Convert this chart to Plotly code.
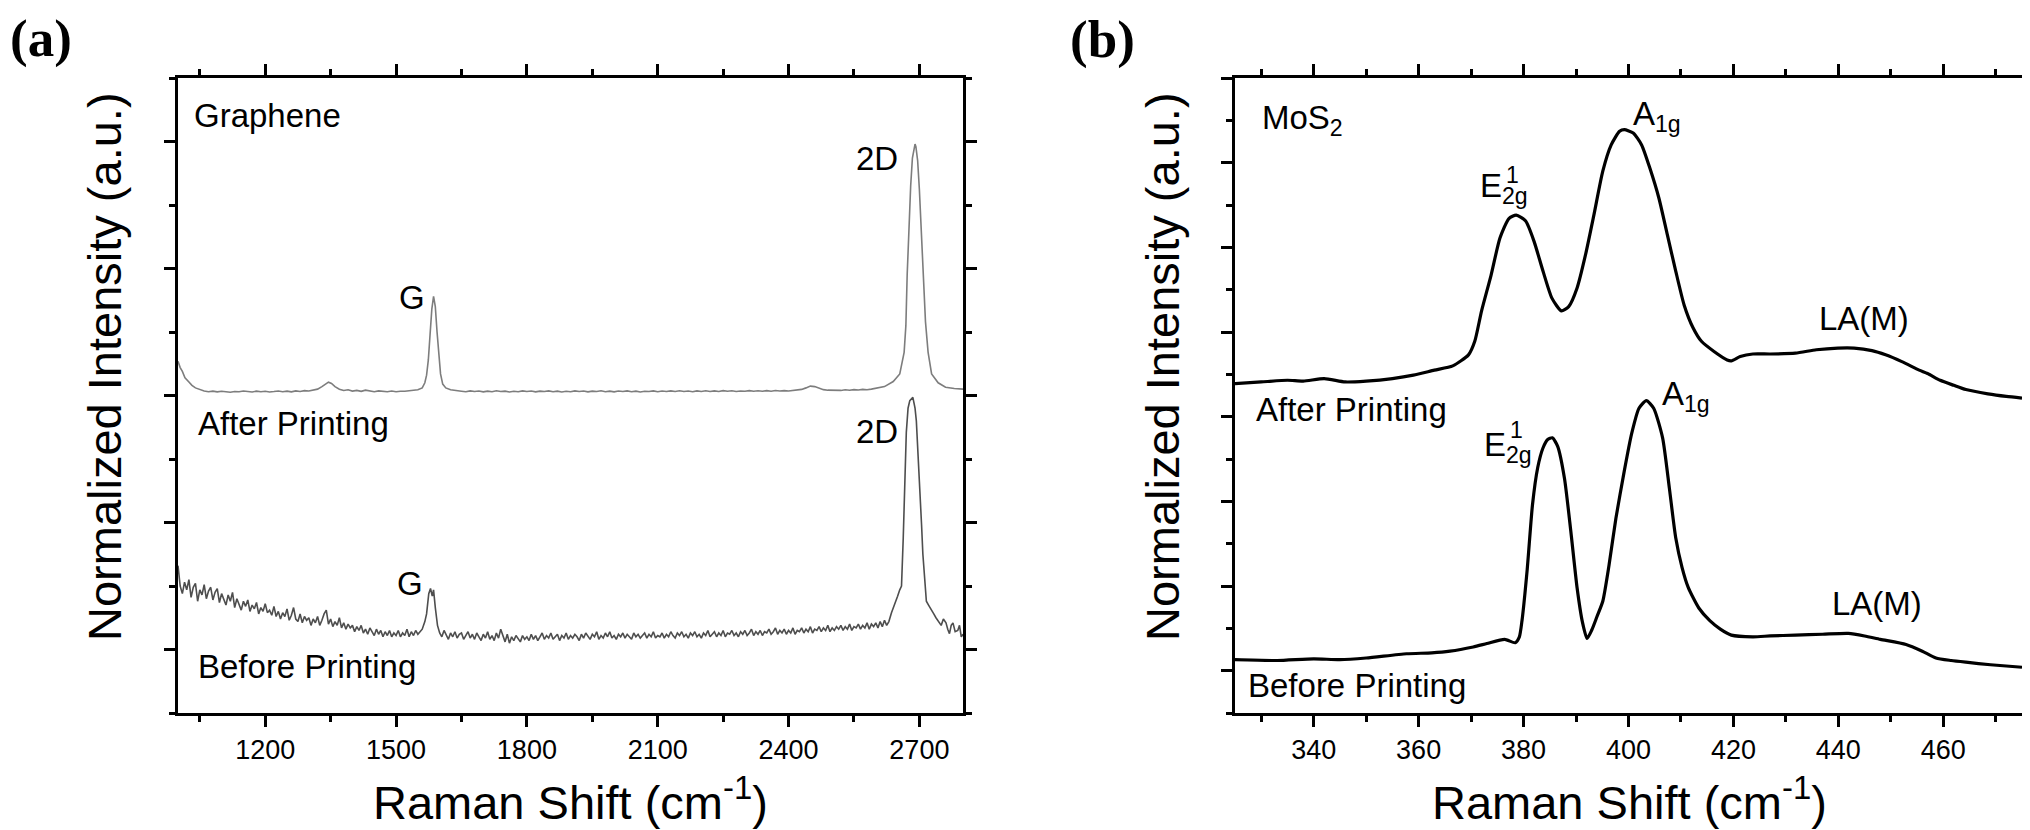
import plotly.graph_objects as go

SANS = "Liberation Sans, Arial, sans-serif"
SERIF = "Liberation Serif, Times New Roman, serif"

# ---------------- (a) graphene, Raman shift (cm-1) vs stacked intensity ----------------
gr_after_x = [1000, 1005, 1010, 1016, 1024, 1032, 1040, 1048, 1060, 1070, 1080, 1090, 1100, 1110,
              1120, 1130, 1140, 1150, 1160, 1170, 1180, 1190, 1200, 1210, 1220, 1230, 1240, 1250,
              1260, 1270, 1280, 1290, 1300, 1310, 1320, 1330, 1338, 1345, 1352, 1360, 1370, 1380,
              1390, 1400, 1410, 1420, 1430, 1440, 1450, 1460, 1470, 1480, 1490, 1500, 1510, 1520,
              1530, 1540, 1550, 1560, 1566, 1570, 1574, 1578, 1582, 1586, 1590, 1594, 1598, 1602,
              1607, 1614, 1625, 1640,
              1650, 1660, 1670, 1680, 1690, 1700, 1710, 1720, 1730, 1740, 1750, 1760, 1770, 1780,
              1790, 1800, 1810, 1820, 1830, 1840, 1850, 1860, 1870, 1880, 1890, 1900, 1910, 1920,
              1930, 1940, 1950, 1960, 1970, 1980, 1990, 2000, 2010, 2020, 2030, 2040, 2050, 2060,
              2070, 2080, 2090, 2100, 2110, 2120, 2130, 2140, 2150, 2160, 2170, 2180, 2190, 2200,
              2210, 2220, 2230, 2240, 2250, 2260, 2270, 2280, 2290, 2300, 2310, 2320, 2330, 2340,
              2350, 2360, 2370, 2380, 2390, 2400, 2410, 2420, 2430, 2440, 2450, 2460, 2470, 2480,
              2490, 2500, 2510, 2520, 2530, 2540, 2550, 2560, 2570, 2580, 2590,
              2600, 2620, 2640, 2655, 2665, 2669, 2672, 2676, 2680, 2684, 2688, 2690, 2692, 2696,
              2700, 2704, 2709, 2714, 2720, 2728, 2743, 2760, 2780, 2800]
gr_after_y = [2.27, 2.22, 2.19, 2.14, 2.11, 2.08, 2.06, 2.05, 2.035, 2.03, 2.034, 2.029, 2.033, 2.03,
              2.026, 2.032, 2.03, 2.035, 2.03, 2.028, 2.034, 2.03, 2.033, 2.028, 2.031, 2.035, 2.03, 2.034,
              2.029, 2.036, 2.032, 2.038, 2.035, 2.04, 2.05, 2.07, 2.09, 2.105, 2.095, 2.07, 2.05, 2.04,
              2.045, 2.035, 2.04, 2.033, 2.042, 2.035, 2.03, 2.036, 2.032, 2.03, 2.035, 2.03, 2.034, 2.033,
              2.038, 2.04, 2.045, 2.06, 2.10, 2.16, 2.28, 2.48, 2.68, 2.78, 2.70, 2.50, 2.30, 2.17,
              2.09, 2.06, 2.045, 2.035,
              2.034, 2.030, 2.036, 2.031, 2.035, 2.029, 2.034, 2.030, 2.037, 2.031, 2.034, 2.028, 2.033, 2.030,
              2.036, 2.031, 2.035, 2.029, 2.034, 2.031, 2.036, 2.030, 2.034, 2.028, 2.033, 2.030, 2.036, 2.031,
              2.035, 2.029, 2.034, 2.031, 2.037, 2.030, 2.034, 2.029, 2.035, 2.031, 2.036, 2.030, 2.034, 2.028,
              2.033, 2.031, 2.036, 2.030, 2.035, 2.031, 2.036, 2.032, 2.037, 2.031, 2.035, 2.030, 2.036, 2.032,
              2.037, 2.031, 2.036, 2.032, 2.038, 2.033, 2.037, 2.032, 2.036, 2.033, 2.038, 2.034, 2.037, 2.033,
              2.038, 2.034, 2.039, 2.035, 2.038, 2.035, 2.040, 2.040, 2.048, 2.060, 2.074, 2.070, 2.056, 2.046,
              2.042, 2.040, 2.043, 2.040, 2.045, 2.041, 2.046, 2.043, 2.048, 2.045, 2.050,
              2.055, 2.07, 2.11, 2.17, 2.34, 2.55, 2.95, 3.35, 3.65, 3.87, 3.97, 3.98, 3.96, 3.85,
              3.62, 3.30, 2.98, 2.58, 2.34, 2.17, 2.10, 2.065, 2.055, 2.05]

# before printing: noisy spectrum sampled every 5 cm-1, with the G and 2D peaks read more finely
gr_before_x = (list(range(1000, 1561, 5))
               + [1566, 1570, 1575, 1579, 1583, 1586, 1590, 1595]
               + list(range(1600, 2631, 5))
               + [2636, 2643, 2650, 2655, 2659, 2663, 2667, 2670, 2674, 2678, 2685, 2690, 2693, 2697,
                  2701, 2705, 2708, 2711, 2716, 2721, 2727, 2733, 2738, 2744, 2750, 2755, 2761, 2765,
                  2769, 2773, 2777, 2782, 2788, 2792, 2796, 2800])
gr_before_y = [
    # 1000 - 1560
    0.66, 0.50, 0.44, 0.53, 0.47, 0.55, 0.41, 0.49, 0.52, 0.38, 0.47, 0.43, 0.51, 0.40, 0.46, 0.49,
    0.39, 0.45, 0.48, 0.37, 0.44, 0.40, 0.35, 0.43, 0.38, 0.45, 0.33, 0.40, 0.36, 0.31, 0.38, 0.34,
    0.39, 0.30, 0.35, 0.32, 0.37, 0.28, 0.33, 0.30, 0.36, 0.29, 0.31, 0.27, 0.34, 0.26, 0.30, 0.24,
    0.29, 0.26, 0.32, 0.23, 0.27, 0.33, 0.24, 0.22, 0.28, 0.21, 0.26, 0.23, 0.25, 0.19, 0.24, 0.21,
    0.26, 0.19, 0.23, 0.28, 0.31, 0.20, 0.24, 0.18, 0.22, 0.19, 0.25, 0.17, 0.21, 0.16, 0.20, 0.17,
    0.19, 0.14, 0.18, 0.15, 0.19, 0.13, 0.16, 0.12, 0.17, 0.14, 0.11, 0.16, 0.12, 0.15, 0.10, 0.14,
    0.11, 0.15, 0.10, 0.13, 0.11, 0.15, 0.10, 0.13, 0.11, 0.16, 0.10, 0.14, 0.11, 0.15, 0.12, 0.14,
    0.16,
    # G band
    0.22, 0.28, 0.44, 0.48, 0.42, 0.47, 0.33, 0.19,
    # 1600 - 2630
    0.13, 0.10, 0.15, 0.11, 0.08, 0.13, 0.10, 0.14, 0.09, 0.12, 0.13, 0.08, 0.11, 0.14, 0.09, 0.12,
    0.08, 0.13, 0.10, 0.07, 0.12, 0.09, 0.14, 0.08, 0.11, 0.07, 0.13, 0.09, 0.16, 0.10, 0.06, 0.12,
    0.05, 0.10, 0.07, 0.11, 0.08, 0.06, 0.11, 0.08, 0.10, 0.07, 0.12, 0.08, 0.11, 0.07, 0.10, 0.13,
    0.08, 0.11, 0.09, 0.13, 0.08, 0.10, 0.12, 0.07, 0.11, 0.09, 0.13, 0.08, 0.11, 0.09, 0.12, 0.10,
    0.07, 0.12, 0.09, 0.13, 0.10, 0.08, 0.12, 0.10, 0.14, 0.08, 0.11, 0.09, 0.13, 0.10, 0.14, 0.09,
    0.11, 0.08, 0.12, 0.10, 0.13, 0.09, 0.12, 0.10, 0.08, 0.13, 0.10, 0.12, 0.09, 0.11, 0.13, 0.09,
    0.12, 0.10, 0.14, 0.09, 0.11, 0.10, 0.13, 0.09, 0.12, 0.10, 0.14, 0.11, 0.09, 0.13, 0.11, 0.14,
    0.10, 0.12, 0.09, 0.13, 0.11, 0.14, 0.10, 0.12, 0.09, 0.13, 0.11, 0.15, 0.10, 0.12, 0.14, 0.10,
    0.13, 0.11, 0.15, 0.10, 0.13, 0.12, 0.15, 0.11, 0.13, 0.10, 0.14, 0.12, 0.15, 0.11, 0.13, 0.16,
    0.11, 0.14, 0.12, 0.15, 0.11, 0.14, 0.13, 0.16, 0.12, 0.14, 0.17, 0.12, 0.15, 0.13, 0.16, 0.12,
    0.15, 0.13, 0.17, 0.12, 0.15, 0.14, 0.17, 0.13, 0.16, 0.14, 0.18, 0.13, 0.16, 0.15, 0.18, 0.14,
    0.17, 0.15, 0.19, 0.14, 0.17, 0.15, 0.18, 0.16, 0.19, 0.15, 0.18, 0.16, 0.20, 0.15, 0.18, 0.17,
    0.20, 0.16, 0.19, 0.17, 0.21, 0.16, 0.20, 0.18, 0.21, 0.17, 0.22, 0.18, 0.23, 0.19, 0.22,
    # 2D band and tail
    0.29, 0.35, 0.42, 0.47, 0.50, 0.88, 1.30, 1.71, 1.90, 1.96, 1.985, 1.90, 1.80, 1.56,
    1.30, 0.98, 0.75, 0.63, 0.38, 0.35, 0.31, 0.28, 0.25, 0.22, 0.19, 0.24, 0.21, 0.16,
    0.125, 0.19, 0.21, 0.14, 0.15, 0.19, 0.10, 0.12]

a_xticks = [1200, 1500, 1800, 2100, 2400, 2700]

# ---------------- (b) MoS2 ----------------
mos_after_x = [325, 330, 335, 338, 342, 346, 350, 355, 359, 363, 366.5, 369.5, 370.7, 372, 373.8,
               375.5, 377.2, 378.6, 380.4, 382, 383.7, 385.4, 387.2, 388.6, 390.2, 391.8, 393.4,
               395.1, 396.7, 398.3, 399.2, 400.9, 402.5, 404.1, 405.8, 407.4, 409, 410.6, 412.3,
               413.9, 416.3, 418.8, 419.6, 421.3, 423.7, 427, 431.8, 435.8, 439.9, 443, 446.4, 449,
               452.1, 455.4, 457, 459.4, 462, 464.3, 468.5, 472, 475]
mos_after_y = [3.39, 3.41, 3.43, 3.42, 3.45, 3.41, 3.42, 3.45, 3.49, 3.55, 3.60, 3.73, 3.89, 4.25, 4.67,
               5.11, 5.34, 5.38, 5.31, 5.07, 4.72, 4.40, 4.25, 4.30, 4.52, 4.91, 5.38,
               5.90, 6.21, 6.37, 6.39, 6.35, 6.21, 5.93, 5.58, 5.15, 4.72, 4.32, 4.05,
               3.89, 3.77, 3.67, 3.66, 3.71, 3.74, 3.74, 3.75, 3.79, 3.81, 3.81, 3.78, 3.73,
               3.65, 3.55, 3.51, 3.43, 3.37, 3.32, 3.27, 3.24, 3.22]

mos_before_x = [325, 333, 340, 345, 350, 357.7, 362.5, 366, 370.4, 373, 376.4, 378.4, 379.2, 379.7,
                380.7, 381.7, 382.7, 383.7, 384.6, 385.5, 386.5, 387.8, 389, 390.2, 391.2, 392.1,
                393, 394, 395.1, 396.3, 397.6, 399.2, 400.6, 402, 403.4, 404.8, 406.5, 407.8, 409,
                410.2, 411.4, 413.4, 415.5, 417.5, 419.6, 423.7, 427, 431.8, 437, 441.9, 445, 448,
                452.9, 456, 458.6, 461.5, 464.3, 469, 475]
mos_before_y = [0.13, 0.12, 0.14, 0.13, 0.15, 0.20, 0.21, 0.23, 0.28, 0.32, 0.37, 0.33, 0.40, 0.59,
                1.20, 1.96, 2.40, 2.63, 2.73, 2.75, 2.65, 2.27, 1.65, 0.98, 0.58, 0.38,
                0.48, 0.64, 0.82, 1.25, 1.80, 2.36, 2.80, 3.10, 3.19, 3.10, 2.75, 2.15, 1.57,
                1.22, 0.98, 0.74, 0.59, 0.49, 0.42, 0.40, 0.41, 0.42, 0.43, 0.44, 0.41, 0.37,
                0.31, 0.23, 0.15, 0.12, 0.10, 0.07, 0.04]

b_xticks = [340, 360, 380, 400, 420, 440, 460]

assert len(gr_after_x) == len(gr_after_y)
assert len(gr_before_x) == len(gr_before_y), (len(gr_before_x), len(gr_before_y))
assert len(mos_after_x) == len(mos_after_y)
assert len(mos_before_x) == len(mos_before_y)

W, H = 2030, 830


def px(x):
    return x / W


def py(y):
    return 1 - y / H


fig = go.Figure()
fig.add_trace(go.Scatter(x=gr_after_x, y=gr_after_y, mode="lines", xaxis="x", yaxis="y",
                         line=dict(color="#7d7d7d", width=1.6)))
fig.add_trace(go.Scatter(x=gr_before_x, y=gr_before_y, mode="lines", xaxis="x", yaxis="y",
                         line=dict(color="#4e4e4e", width=1.6)))
fig.add_trace(go.Scatter(x=mos_after_x, y=mos_after_y, mode="lines", xaxis="x2", yaxis="y2",
                         line=dict(color="black", width=3.2, shape="spline", smoothing=0.6)))
fig.add_trace(go.Scatter(x=mos_before_x, y=mos_before_y, mode="lines", xaxis="x2", yaxis="y2",
                         line=dict(color="black", width=3.2, shape="spline", smoothing=0.6)))


def frame(**kw):
    d = dict(showline=True, linecolor="black", linewidth=2.5, mirror="ticks",
             ticks="outside", ticklen=11, tickwidth=2.5, tickcolor="black",
             showgrid=False, zeroline=False, fixedrange=True,
             tickfont=dict(family=SANS, size=27, color="black"))
    d.update(kw)
    return d


def minor(step):
    return dict(ticks="outside", ticklen=6, tickwidth=2.5, tickcolor="black", dtick=step, showgrid=False)


ya = [py(705), py(70)]
fig.update_layout(
    width=W, height=H, autosize=False, showlegend=False,
    margin=dict(l=0, r=0, t=0, b=0),
    paper_bgcolor="white", plot_bgcolor="white",
    xaxis=frame(domain=[px(170), px(955)], range=[1000, 2800], anchor="y",
                tickmode="array", tickvals=a_xticks, minor=minor(150)),
    yaxis=frame(domain=ya, range=[-0.5, 4.5], anchor="x", tick0=0, dtick=1,
                showticklabels=False, minor=minor(0.5)),
    xaxis2=frame(domain=[px(1227), px(2014)], range=[325, 475], anchor="y2",
                 tickmode="array", tickvals=b_xticks, minor=minor(10)),
    yaxis2=frame(domain=ya, range=[-0.5, 7], anchor="x2", tick0=0, dtick=1,
                 showticklabels=False, minor=minor(0.5)),
)


def label(text, x, y, xref="x", yref="y", size=33, xanchor="center", family=SANS, angle=0):
    fig.add_annotation(text=text, x=x, y=y, xref=xref, yref=yref, showarrow=False,
                       xanchor=xanchor, yanchor="middle", textangle=angle,
                       font=dict(family=family, size=size, color="black"))


# panel letters
label("<b>(a)</b>", px(33), py(30), "paper", "paper", size=53, family=SERIF)
label("<b>(b)</b>", px(1094), py(32), "paper", "paper", size=53, family=SERIF)

# axis titles
for cx in (96, 1154):
    label("Normalized Intensity (a.u.)", px(cx), py(359), "paper", "paper", size=47, angle=-90)
label("Raman Shift (cm<sup>-1</sup>)", px(562), py(791), "paper", "paper", size=47)
label("Raman Shift (cm<sup>-1</sup>)", px(1621), py(791), "paper", "paper", size=47)

# (a) peak and sample labels
label("Graphene", 1032, 4.205, xanchor="left")
label("G", 1537, 2.77)
label("2D", 2656, 3.87, xanchor="right")
label("After Printing", 1041, 1.78, xanchor="left")
label("G", 1532, 0.516)
label("2D", 2656, 1.72, xanchor="right")
label("Before Printing", 1041, -0.134, xanchor="left")

# (b) peak and sample labels
label("MoS<sub>2</sub>", 329.7, 6.50, "x2", "y2", xanchor="left")
label("E<sub>2g</sub>", 376.2, 5.70, "x2", "y2")
label("1", 377.9, 5.85, "x2", "y2", size=23)
label("A<sub>1g</sub>", 405.5, 6.55, "x2", "y2")
label("LA(M)", 444.8, 4.16, "x2", "y2")
label("After Printing", 328.6, 3.08, "x2", "y2", xanchor="left")
label("E<sub>2g</sub>", 377.0, 2.645, "x2", "y2")
label("1", 378.7, 2.84, "x2", "y2", size=23)
label("A<sub>1g</sub>", 411.0, 3.24, "x2", "y2")
label("LA(M)", 447.3, 0.79, "x2", "y2")
label("Before Printing", 327.1, -0.18, "x2", "y2", xanchor="left")

fig.write_html("out.html")
